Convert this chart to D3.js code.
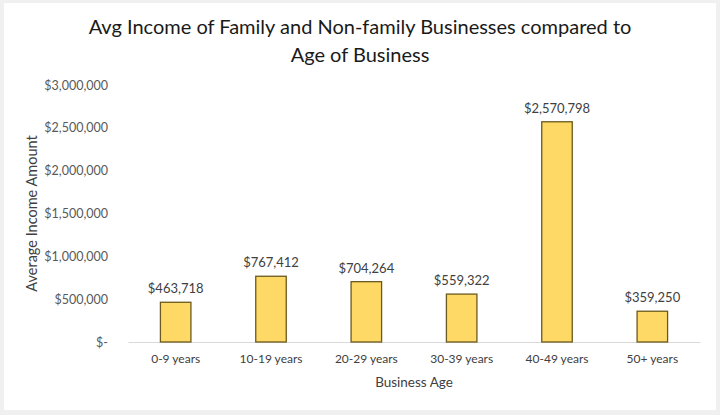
<!DOCTYPE html>
<html>
<head>
<meta charset="utf-8">
<script src="https://cdn.jsdelivr.net/npm/d3@7"></script>
<style>
  body { margin: 0; background: #f0f0f0; }
  svg { display: block; font-family: Lato, "Noto Sans", sans-serif; }
</style>
</head>
<body>
<div id="chart"></div>
<script>
// Chart data
const ageGroups = ["0-9 years", "10-19 years", "20-29 years", "30-39 years", "40-49 years", "50+ years"];
const avgIncome = [463718, 767412, 704264, 559322, 2570798, 359250];
const yTicks = [0, 500000, 1000000, 1500000, 2000000, 2500000, 3000000];

const width = 720, height = 415;
const margin = { top: 85, right: 20, bottom: 73, left: 128 };

const svg = d3.select("#chart")
    .append("svg")
    .attr("width", width)
    .attr("height", height);

// white card with a light grey frame
svg.append("rect")
    .attr("x", 4).attr("y", 3)
    .attr("width", 712).attr("height", 407)
    .attr("fill", "#ffffff");

const x = d3.scaleBand()
    .domain(ageGroups)
    .range([margin.left, width - margin.right])
    .paddingInner(0.68)
    .paddingOuter(0.34);

const y = d3.scaleLinear()
    .domain([0, 3000000])
    .range([height - margin.bottom, margin.top]);

const money = d3.format("$,");

// y axis (labels only)
const yAxis = svg.append("g")
    .attr("transform", `translate(${margin.left - 17},0)`)
    .call(d3.axisLeft(y).tickValues(yTicks).tickSize(0)
        .tickFormat(d => d === 0 ? "$-" : money(d)));
yAxis.select(".domain").remove();
yAxis.selectAll("text")
    .attr("font-size", 12.5)
    .attr("fill", "#595959")
    .attr("font-family", "Lato, sans-serif");

// x axis
const xAxis = svg.append("g")
    .attr("transform", `translate(0,${height - margin.bottom})`)
    .call(d3.axisBottom(x).tickSize(0).tickPadding(12));
xAxis.select(".domain")
    .attr("stroke", "#d9d9d9");
xAxis.selectAll("text")
    .attr("font-size", 12)
    .attr("fill", "#404040")
    .attr("font-family", "Lato, sans-serif");

// bars
svg.selectAll("rect.bar")
    .data(avgIncome)
    .enter()
    .append("rect")
    .attr("class", "bar")
    .attr("x", (d, i) => x(ageGroups[i]))
    .attr("y", d => y(d))
    .attr("width", x.bandwidth())
    .attr("height", d => y(0) - y(d))
    .attr("fill", "#ffd966")
    .attr("stroke", "#6b5a1e")
    .attr("stroke-width", 1.3);

// value labels
svg.selectAll("text.value")
    .data(avgIncome)
    .enter()
    .append("text")
    .attr("class", "value")
    .attr("x", (d, i) => x(ageGroups[i]) + x.bandwidth() / 2)
    .attr("y", d => y(d) - 9)
    .attr("text-anchor", "middle")
    .attr("font-size", 13)
    .attr("fill", "#404040")
    .text(d => money(d));

// title
const title = svg.append("text")
    .attr("x", 360)
    .attr("text-anchor", "middle")
    .attr("font-size", 20)
    .attr("fill", "#1a1a1a");
title.append("tspan").attr("x", 360).attr("y", 34)
    .text("Avg Income of Family and Non-family Businesses compared to");
title.append("tspan").attr("x", 360).attr("y", 62)
    .text("Age of Business");

// axis titles
svg.append("text")
    .attr("x", (margin.left + width - margin.right) / 2)
    .attr("y", 387)
    .attr("text-anchor", "middle")
    .attr("font-size", 13.5)
    .attr("fill", "#404040")
    .text("Business Age");

svg.append("text")
    .attr("transform", `translate(37,${(margin.top + height - margin.bottom) / 2}) rotate(-90)`)
    .attr("text-anchor", "middle")
    .attr("font-size", 14.5)
    .attr("fill", "#404040")
    .text("Average Income Amount");
</script>
</body>
</html>
